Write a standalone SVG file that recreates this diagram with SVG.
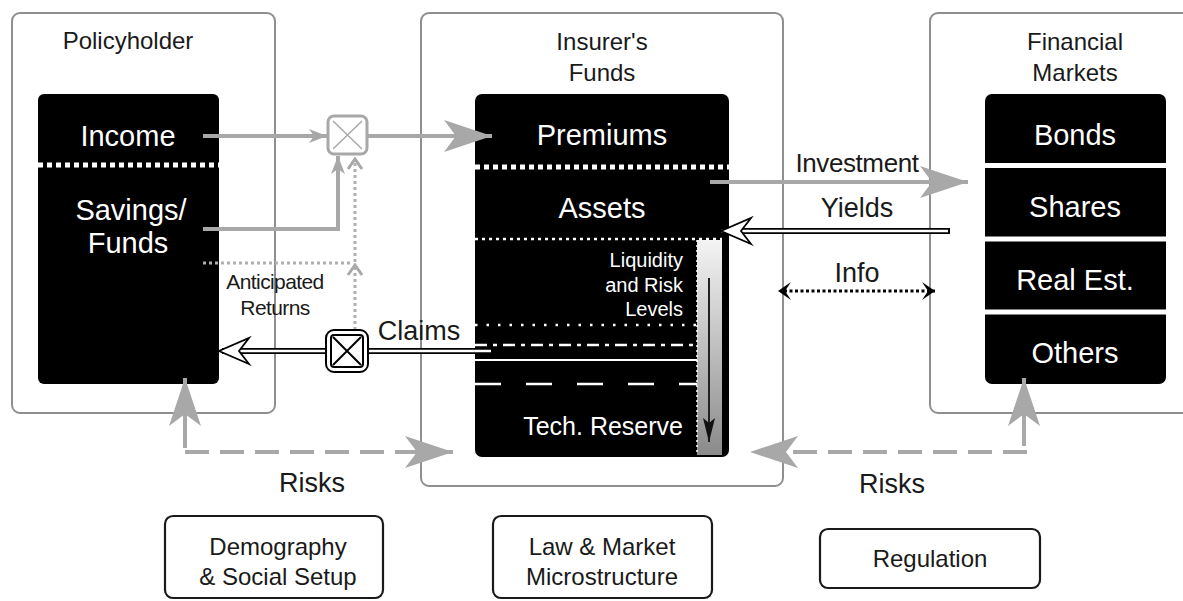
<svg xmlns="http://www.w3.org/2000/svg" width="1183" height="601" viewBox="0 0 1183 601">
<defs>
<style>
text{font-family:"Liberation Sans",Arial,Helvetica,sans-serif;}
.hdr{font-size:24px;fill:#1a1a1a;text-anchor:middle}
.main{font-size:29px;fill:#fff;text-anchor:middle}
.lbl{font-size:27px;fill:#1a1a1a;text-anchor:middle}
.small{font-size:20px;fill:#fff;text-anchor:end}
.frame{fill:#fff;stroke:#8f8f8f;stroke-width:2}
.blk{fill:#000}
.bot{fill:#fff;stroke:#1a1a1a;stroke-width:2.2}
.gray{fill:none;stroke:#a8a8a8;stroke-width:4}
.gdash{fill:none;stroke:#a8a8a8;stroke-width:4;stroke-dasharray:24 11}
.gdot{fill:none;stroke:#b0b0b0;stroke-width:3;stroke-dasharray:3 3}
.dblOut{fill:none;stroke:#000;stroke-width:6}
.dblIn{fill:none;stroke:#fff;stroke-width:2.4}
.wdotBig{fill:none;stroke:#fff;stroke-width:5;stroke-dasharray:5 4}
.wdot{fill:none;stroke:#fff;stroke-width:2.5;stroke-dasharray:3 4}
</style>
<linearGradient id="grad" x1="0" y1="0" x2="0" y2="1">
<stop offset="0" stop-color="#f4f4f4"/>
<stop offset="1" stop-color="#8a8a8a"/>
</linearGradient>
<marker id="gArrow" markerUnits="userSpaceOnUse" markerWidth="48" markerHeight="32" viewBox="0 0 48 32" refX="48" refY="16" orient="auto">
<path d="M0,0 L48,16 L0,32 L12,16 Z" fill="#a8a8a8"/>
</marker>
<marker id="gSmall" markerUnits="userSpaceOnUse" markerWidth="18" markerHeight="14" viewBox="0 0 18 14" refX="18" refY="7" orient="auto">
<path d="M0,0 L18,7 L0,14 L5,7 Z" fill="#a8a8a8"/>
</marker>
<marker id="gChev" markerUnits="userSpaceOnUse" markerWidth="14" markerHeight="18" viewBox="-2 -2 14 18" refX="10" refY="7" orient="auto">
<path d="M0,0 L10,7 L0,14" fill="none" stroke="#a8a8a8" stroke-width="3"/>
</marker>
<marker id="wArrow" markerUnits="userSpaceOnUse" markerWidth="36" markerHeight="32" viewBox="-3 -3 36 32" refX="30" refY="13" orient="auto">
<path d="M0,0 L30,13 L0,26 L10,13 Z" fill="#fff" stroke="#000" stroke-width="1.8"/>
</marker>
<marker id="bChev" markerUnits="userSpaceOnUse" markerWidth="14" markerHeight="18" viewBox="0 0 14 18" refX="13" refY="9" orient="auto">
<path d="M0,0 L13,9 L0,18 L6,9 Z" fill="#000"/>
</marker>
<marker id="bThin" markerUnits="userSpaceOnUse" markerWidth="24" markerHeight="12" viewBox="0 0 24 12" refX="24" refY="6" orient="auto">
<path d="M0,0 L24,6 L0,12 L5,6 Z" fill="#111"/>
</marker>
</defs>

<rect width="1183" height="601" fill="#fff"/>

<g id="policyholder">
<rect class="frame" x="12" y="13" width="263" height="400" rx="8"/>
<text class="hdr" x="128" y="49">Policyholder</text>
<rect class="blk" x="38" y="94" width="181" height="290" rx="6"/>
<text class="main" x="128" y="146">Income</text>
<line class="wdotBig" x1="38" y1="165" x2="219" y2="165"/>
<text class="main" x="131" y="220">Savings/</text>
<text class="main" x="128" y="253">Funds</text>
</g>

<g id="insurer">
<rect class="frame" x="421" y="13" width="362" height="473" rx="8"/>
<text class="hdr" x="602" y="50">Insurer's</text>
<text class="hdr" x="602" y="81">Funds</text>
<rect class="blk" x="475" y="94" width="254" height="363" rx="7"/>
<text class="main" x="602" y="145">Premiums</text>
<line class="wdotBig" x1="475" y1="167" x2="729" y2="167"/>
<text class="main" x="602" y="218">Assets</text>
<line class="wdot" x1="475" y1="239" x2="722" y2="239"/>
<rect x="697" y="240" width="25" height="215" fill="url(#grad)"/>
<line x1="697" y1="240" x2="697" y2="455" stroke="#fff" stroke-width="1.5" stroke-dasharray="2 3"/>
<line x1="709" y1="278" x2="709" y2="442" stroke="#222" stroke-width="2" marker-end="url(#bThin)"/>
<text class="small" x="683" y="267">Liquidity</text>
<text class="small" x="683" y="292">and Risk</text>
<text class="small" x="683" y="316">Levels</text>
<line x1="475" y1="325" x2="697" y2="325" stroke="#fff" stroke-width="2.5" stroke-dasharray="2.5 9"/>
<line x1="475" y1="345" x2="697" y2="345" stroke="#fff" stroke-width="2.5" stroke-dasharray="12 6 4 6"/>
<line x1="475" y1="360" x2="697" y2="360" stroke="#fff" stroke-width="2"/>
<line x1="475" y1="384" x2="697" y2="384" stroke="#fff" stroke-width="2.5" stroke-dasharray="26 25"/>
<text x="683" y="435" style="font-size:25px;fill:#fff;text-anchor:end">Tech. Reserve</text>
</g>

<g id="markets">
<rect class="frame" x="930" y="13" width="270" height="400" rx="8"/>
<text class="hdr" x="1075" y="50">Financial</text>
<text class="hdr" x="1075" y="81">Markets</text>
<rect class="blk" x="985" y="94" width="181" height="290" rx="7"/>
<line x1="985" y1="165.5" x2="1166" y2="165.5" stroke="#fff" stroke-width="5"/>
<line x1="985" y1="239" x2="1166" y2="239" stroke="#fff" stroke-width="5"/>
<line x1="985" y1="312" x2="1166" y2="312" stroke="#fff" stroke-width="5"/>
<text class="main" x="1075" y="145">Bonds</text>
<text class="main" x="1075" y="217">Shares</text>
<text class="main" x="1075" y="290">Real Est.</text>
<text class="main" x="1075" y="363">Others</text>
</g>

<g id="connectors">
<path class="gray" d="M203,136 L327,136" marker-end="url(#gSmall)"/>
<path class="gray" d="M367,136 L492,136" marker-end="url(#gArrow)"/>
<path class="gray" d="M203,229 L338,229 L338,156" marker-end="url(#gSmall)"/>
<path class="gdot" d="M203,263 L352,263"/>
<path class="gdot" d="M355,330 L355,265" marker-end="url(#gChev)"/>
<path class="gdot" d="M355,262 L355,159" marker-end="url(#gChev)"/>
<path class="dblOut" d="M493,351 L222,351"/>
<path class="dblIn" d="M491,351 L219,351" marker-end="url(#wArrow)"/>
<path class="gray" d="M710,182 L968,182" marker-end="url(#gArrow)"/>
<path class="dblOut" d="M950,231 L724,231"/>
<path class="dblIn" d="M948,231 L721,231" marker-end="url(#wArrow)"/>
<path d="M784,291 L935,291" fill="none" stroke="#000" stroke-width="3" stroke-dasharray="3 2.5" marker-end="url(#bChev)"/>
<path d="M935,291 L778,291" fill="none" stroke="none" marker-end="url(#bChev)"/>
<path class="gray" d="M185,448 L185,378" marker-end="url(#gArrow)"/>
<path class="gdash" d="M185,452 L453,452" marker-end="url(#gArrow)"/>
<path class="gray" d="M1024,446 L1024,378" marker-end="url(#gArrow)"/>
<path class="gdash" d="M1027,452 L750,452" marker-end="url(#gArrow)"/>
</g>

<g id="mixer-top">
<rect x="328" y="116" width="39" height="38" rx="6" fill="#fff" stroke="#a8a8a8" stroke-width="3"/>
<path d="M333,121 L362,149 M362,121 L333,149" stroke="#a8a8a8" stroke-width="1.5" fill="none"/>
</g>

<g id="mixer-claims">
<rect x="326" y="330" width="42" height="42" rx="8" fill="#fff" stroke="#000" stroke-width="2"/>
<rect x="331" y="335" width="32" height="32" rx="3" fill="#fff" stroke="#000" stroke-width="2"/>
<path d="M333,337 L361,365 M361,337 L333,365" stroke="#000" stroke-width="2" fill="none"/>
</g>

<g id="labels">
<text x="275" y="289" style="font-size:21px;fill:#1a1a1a;text-anchor:middle;letter-spacing:-0.6px">Anticipated</text>
<text x="275" y="315" style="font-size:21px;fill:#1a1a1a;text-anchor:middle;letter-spacing:-0.6px">Returns</text>
<text class="lbl" x="419" y="340">Claims</text>
<text x="857" y="172" style="font-size:26px;fill:#1a1a1a;text-anchor:middle;letter-spacing:-0.4px">Investment</text>
<text class="lbl" x="857" y="217">Yields</text>
<text class="lbl" x="857" y="282">Info</text>
<text class="lbl" x="312" y="492">Risks</text>
<text class="lbl" x="892" y="493">Risks</text>
</g>

<g id="demography">
<rect class="bot" x="165" y="516" width="218" height="82" rx="8"/>
<text class="hdr" x="278" y="555">Demography</text>
<text class="hdr" x="278" y="585">&amp; Social Setup</text>
</g>

<g id="law">
<rect class="bot" x="493" y="516" width="219" height="82" rx="8"/>
<text class="hdr" x="602" y="555">Law &amp; Market</text>
<text class="hdr" x="602" y="585">Microstructure</text>
</g>

<g id="regulation">
<rect class="bot" x="820" y="529" width="220" height="59" rx="8"/>
<text class="hdr" x="930" y="567">Regulation</text>
</g>
</svg>
